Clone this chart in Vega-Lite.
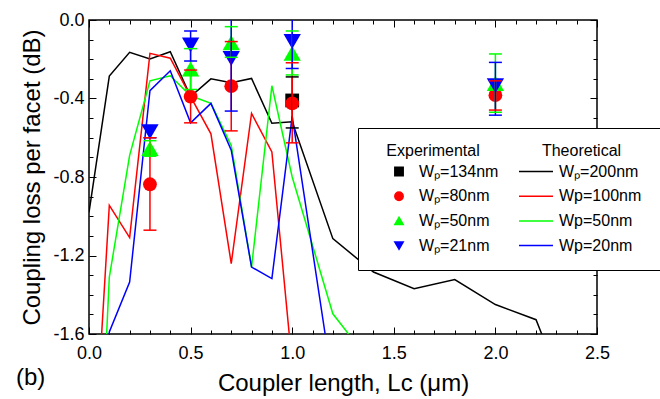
{
  "$schema": "https://vega.github.io/schema/vega-lite/v6.json",
  "autosize": {"type": "none"},
  "width": 508,
  "height": 314,
  "padding": {"left": 89, "top": 20, "right": 63, "bottom": 65},
  "background": "white",
  "title": {"text": "(b)", "orient": "bottom", "anchor": "start", "frame": "bounds", "fontSize": 24, "fontWeight": "normal", "font": "Liberation Sans", "color": "black", "offset": 0, "dy": -29, "dx": -5},
  "config": {
    "font": "Liberation Sans",
    "view": {"stroke": "black", "strokeWidth": 1.5},
    "axis": {"domain": false, "tickColor": "black", "labelColor": "black", "titleColor": "black", "labelFontSize": 18, "titleFontSize": 24, "titleFontWeight": "normal", "grid": false, "tickWidth": 1}
  },
  "datasets": {
    "theory": [
      {"L": 0.0, "loss": -0.98, "curve": "Wₚ=200nm"},
      {"L": 0.1, "loss": -0.286, "curve": "Wₚ=200nm"},
      {"L": 0.2, "loss": -0.165, "curve": "Wₚ=200nm"},
      {"L": 0.3, "loss": -0.199, "curve": "Wₚ=200nm"},
      {"L": 0.4, "loss": -0.162, "curve": "Wₚ=200nm"},
      {"L": 0.5, "loss": -0.39, "curve": "Wₚ=200nm"},
      {"L": 0.6, "loss": -0.3, "curve": "Wₚ=200nm"},
      {"L": 0.7, "loss": -0.32, "curve": "Wₚ=200nm"},
      {"L": 0.8, "loss": -0.298, "curve": "Wₚ=200nm"},
      {"L": 0.9, "loss": -0.526, "curve": "Wₚ=200nm"},
      {"L": 1.0, "loss": -0.519, "curve": "Wₚ=200nm"},
      {"L": 1.2, "loss": -1.114, "curve": "Wₚ=200nm"},
      {"L": 1.4, "loss": -1.284, "curve": "Wₚ=200nm"},
      {"L": 1.6, "loss": -1.369, "curve": "Wₚ=200nm"},
      {"L": 1.8, "loss": -1.323, "curve": "Wₚ=200nm"},
      {"L": 2.0, "loss": -1.45, "curve": "Wₚ=200nm"},
      {"L": 2.2, "loss": -1.527, "curve": "Wₚ=200nm"},
      {"L": 2.4, "loss": -2.05, "curve": "Wₚ=200nm"},
      {"L": 0.0, "loss": -2.68, "curve": "Wp=100nm"},
      {"L": 0.1, "loss": -0.944, "curve": "Wp=100nm"},
      {"L": 0.2, "loss": -1.109, "curve": "Wp=100nm"},
      {"L": 0.3, "loss": -0.17, "curve": "Wp=100nm"},
      {"L": 0.4, "loss": -0.195, "curve": "Wp=100nm"},
      {"L": 0.5, "loss": -0.39, "curve": "Wp=100nm"},
      {"L": 0.6, "loss": -0.58, "curve": "Wp=100nm"},
      {"L": 0.7, "loss": -1.241, "curve": "Wp=100nm"},
      {"L": 0.8, "loss": -0.476, "curve": "Wp=100nm"},
      {"L": 0.9, "loss": -0.672, "curve": "Wp=100nm"},
      {"L": 1.0, "loss": -1.76, "curve": "Wp=100nm"},
      {"L": 0.0, "loss": -3.5, "curve": "Wp=50nm"},
      {"L": 0.1, "loss": -1.31, "curve": "Wp=50nm"},
      {"L": 0.2, "loss": -0.69, "curve": "Wp=50nm"},
      {"L": 0.3, "loss": -0.31, "curve": "Wp=50nm"},
      {"L": 0.4, "loss": -0.284, "curve": "Wp=50nm"},
      {"L": 0.5, "loss": -0.386, "curve": "Wp=50nm"},
      {"L": 0.6, "loss": -0.425, "curve": "Wp=50nm"},
      {"L": 0.7, "loss": -0.64, "curve": "Wp=50nm"},
      {"L": 0.8, "loss": -1.259, "curve": "Wp=50nm"},
      {"L": 0.9, "loss": -0.335, "curve": "Wp=50nm"},
      {"L": 1.0, "loss": -0.8, "curve": "Wp=50nm"},
      {"L": 1.2, "loss": -1.497, "curve": "Wp=50nm"},
      {"L": 1.3, "loss": -1.63, "curve": "Wp=50nm"},
      {"L": 0.0, "loss": -3.0, "curve": "Wp=20nm"},
      {"L": 0.1, "loss": -1.59, "curve": "Wp=20nm"},
      {"L": 0.2, "loss": -1.335, "curve": "Wp=20nm"},
      {"L": 0.3, "loss": -0.36, "curve": "Wp=20nm"},
      {"L": 0.4, "loss": -0.259, "curve": "Wp=20nm"},
      {"L": 0.5, "loss": -0.524, "curve": "Wp=20nm"},
      {"L": 0.6, "loss": -0.425, "curve": "Wp=20nm"},
      {"L": 0.7, "loss": -0.663, "curve": "Wp=20nm"},
      {"L": 0.8, "loss": -1.259, "curve": "Wp=20nm"},
      {"L": 0.9, "loss": -1.318, "curve": "Wp=20nm"},
      {"L": 1.0, "loss": -0.49, "curve": "Wp=20nm"},
      {"L": 1.2, "loss": -1.86, "curve": "Wp=20nm"}
    ],
    "exp": [
      {"L": 1.0, "loss": -0.41, "lo": -0.55, "hi": -0.29, "series": "Wₚ=134nm"},
      {"L": 0.3, "loss": -0.837, "lo": -1.071, "hi": -0.6, "series": "Wₚ=80nm"},
      {"L": 0.5, "loss": -0.39, "lo": -0.524, "hi": -0.255, "series": "Wₚ=80nm"},
      {"L": 0.7, "loss": -0.337, "lo": -0.565, "hi": -0.11, "series": "Wₚ=80nm"},
      {"L": 1.0, "loss": -0.425, "lo": -0.626, "hi": -0.218, "series": "Wₚ=80nm"},
      {"L": 2.0, "loss": -0.383, "lo": -0.459, "hi": -0.31, "series": "Wₚ=80nm"},
      {"L": 0.3, "loss": -0.655, "lo": -0.694, "hi": -0.615, "series": "Wₚ=50nm"},
      {"L": 0.5, "loss": -0.25, "lo": -0.354, "hi": -0.146, "series": "Wₚ=50nm"},
      {"L": 0.7, "loss": -0.116, "lo": -0.19, "hi": -0.034, "series": "Wₚ=50nm"},
      {"L": 1.0, "loss": -0.17, "lo": -0.28, "hi": -0.056, "series": "Wₚ=50nm"},
      {"L": 2.0, "loss": -0.323, "lo": -0.47, "hi": -0.173, "series": "Wₚ=50nm"},
      {"L": 0.3, "loss": -0.57, "lo": -0.6, "hi": -0.541, "series": "Wₚ=21nm"},
      {"L": 0.5, "loss": -0.128, "lo": -0.209, "hi": -0.056, "series": "Wₚ=21nm"},
      {"L": 0.7, "loss": -0.196, "lo": -0.464, "hi": 0.07, "series": "Wₚ=21nm"},
      {"L": 1.0, "loss": -0.11, "lo": -0.247, "hi": 0.03, "series": "Wₚ=21nm"},
      {"L": 2.0, "loss": -0.335, "lo": -0.485, "hi": -0.216, "series": "Wₚ=21nm"}
    ]
  },
  "resolve": {"scale": {"x": "shared", "y": "shared"}, "axis": {"x": "independent", "y": "independent"}},
  "layer": [
    {
      "data": {"name": "theory"},
      "mark": {"type": "line", "clip": true, "strokeWidth": 1.5},
      "encoding": {
        "x": {"field": "L", "type": "quantitative", "scale": {"domain": [0, 2.5], "nice": false, "zero": false},
          "axis": {"orient": "bottom", "title": "Coupler length, Lc (μm)", "values": [0,0.1,0.2,0.3,0.4,0.5,0.6,0.7,0.8,0.9,1.0,1.1,1.2,1.3,1.4,1.5,1.6,1.7,1.8,1.9,2.0,2.1,2.2,2.3,2.4,2.5],
            "labelExpr": "round(datum.value*10) % 5 == 0 ? format(datum.value, '.1f') : ''",
            "tickSize": {"condition": {"test": "round(datum.value*10) % 5 == 0", "value": -7}, "value": -4},
            "labelPadding": 17, "titlePadding": 6, "labelFlush": false, "labelOverlap": false}},
        "y": {"field": "loss", "type": "quantitative", "scale": {"domain": [-1.6, 0], "nice": false, "zero": false},
          "axis": {"orient": "left", "title": "Coupling loss per facet (dB)", "values": [-1.6,-1.5,-1.4,-1.3,-1.2,-1.1,-1.0,-0.9,-0.8,-0.7,-0.6,-0.5,-0.4,-0.3,-0.2,-0.1,0],
            "labelExpr": "abs(round(datum.value*10)) % 4 == 0 ? replace(format(datum.value, '.1f'), '−', '-') : ''",
            "tickSize": {"condition": {"test": "abs(round(datum.value*10)) % 4 == 0", "value": -7}, "value": -4},
            "labelPadding": 12, "titlePadding": 8, "labelFlush": false, "labelOverlap": false}},
        "stroke": {"field": "curve", "type": "nominal",
          "scale": {"domain": ["Wₚ=200nm", "Wp=100nm", "Wp=50nm", "Wp=20nm"], "range": ["#000000", "#ff0000", "#00ff00", "#0000ff"]},
          "legend": {"orient": "none", "legendX": 269, "legendY": 108, "title": "\u200b\u00a0\u00a0\u00a0Experimental\u00a0\u00a0\u00a0\u00a0\u00a0\u00a0\u00a0\u00a0\u00a0\u00a0\u00a0\u00a0\u00a0\u00a0Theoretical\u00a0\u00a0\u00a0\u00a0\u00a0\u00a0\u200b", "titleLimit": 1000, "titleFontSize": 16, "titleFontWeight": "normal", "titleColor": "black", "titlePadding": 4,
            "labelFontSize": 16, "labelColor": "black", "symbolType": "stroke", "symbolSize": 1156, "symbolOffset": 145, "labelOffset": 5,
            "clipHeight": 17, "rowPadding": 7.7, "padding": 15, "fillColor": "white", "strokeColor": "black"}}
      }
    },
    {
      "data": {"name": "exp"},
      "transform": [{"filter": "datum.series == 'Wₚ=134nm' || datum.series == 'Wₚ=80nm'"}],
      "mark": {"type": "point", "filled": true, "size": 190, "opacity": 1, "clip": true},
      "encoding": {
        "x": {"field": "L", "type": "quantitative",
          "axis": {"orient": "top", "title": null, "labels": false, "values": [0,0.1,0.2,0.3,0.4,0.5,0.6,0.7,0.8,0.9,1.0,1.1,1.2,1.3,1.4,1.5,1.6,1.7,1.8,1.9,2.0,2.1,2.2,2.3,2.4,2.5],
            "tickSize": {"condition": {"test": "round(datum.value*10) % 5 == 0", "value": -7}, "value": -4}}},
        "y": {"field": "loss", "type": "quantitative",
          "axis": {"orient": "right", "title": null, "labels": false, "values": [-1.6,-1.5,-1.4,-1.3,-1.2,-1.1,-1.0,-0.9,-0.8,-0.7,-0.6,-0.5,-0.4,-0.3,-0.2,-0.1,0],
            "tickSize": {"condition": {"test": "abs(round(datum.value*10)) % 4 == 0", "value": -7}, "value": -4}}},
        "fill": {"field": "series", "type": "nominal",
          "scale": {"domain": ["Wₚ=134nm", "Wₚ=80nm", "Wₚ=50nm", "Wₚ=21nm"], "range": ["#000000", "#ff0000", "#00ff00", "#0000ff"]},
          "legend": {"orient": "none", "legendX": 302, "legendY": 143, "title": null,
            "labelFontSize": 16, "labelColor": "black", "symbolSize": 70, "labelOffset": 12, "clipHeight": 17, "rowPadding": 7.7, "padding": 0}},
        "shape": {"field": "series", "type": "nominal",
          "scale": {"domain": ["Wₚ=134nm", "Wₚ=80nm", "Wₚ=50nm", "Wₚ=21nm"], "range": ["square", "circle", "triangle-up", "triangle-down"]},
          "legend": {"orient": "none", "legendX": 302, "legendY": 143, "title": null,
            "labelFontSize": 16, "labelColor": "black", "symbolSize": 70, "labelOffset": 12, "clipHeight": 17, "rowPadding": 7.7, "padding": 0}}
      }
    },
    {
      "data": {"name": "exp"},
      "transform": [{"filter": "datum.series == 'Wₚ=50nm' || datum.series == 'Wₚ=21nm'"}],
      "mark": {"type": "point", "filled": true, "size": 300, "opacity": 1, "clip": true},
      "encoding": {
        "x": {"field": "L", "type": "quantitative", "axis": null},
        "y": {"field": "loss", "type": "quantitative", "axis": null},
        "fill": {"field": "series", "type": "nominal"},
        "shape": {"field": "series", "type": "nominal"}
      }
    },
    {
      "data": {"name": "exp"},
      "mark": {"type": "rule", "clip": true, "strokeWidth": 1.5},
      "encoding": {
        "x": {"field": "L", "type": "quantitative", "axis": null},
        "y": {"field": "lo", "type": "quantitative", "axis": null},
        "y2": {"field": "hi"},
        "color": {"field": "series", "type": "nominal", "legend": null,
          "scale": {"domain": ["Wₚ=134nm", "Wₚ=80nm", "Wₚ=50nm", "Wₚ=21nm"], "range": ["#000000", "#ff0000", "#00ff00", "#0000ff"]}}
      }
    },
    {
      "data": {"name": "exp"},
      "mark": {"type": "tick", "clip": true, "orient": "horizontal", "size": 13, "thickness": 1.5, "opacity": 1},
      "encoding": {
        "x": {"field": "L", "type": "quantitative", "axis": null},
        "y": {"field": "lo", "type": "quantitative", "axis": null},
        "color": {"field": "series", "type": "nominal", "legend": null,
          "scale": {"domain": ["Wₚ=134nm", "Wₚ=80nm", "Wₚ=50nm", "Wₚ=21nm"], "range": ["#000000", "#ff0000", "#00ff00", "#0000ff"]}}
      }
    },
    {
      "data": {"name": "exp"},
      "mark": {"type": "tick", "clip": true, "orient": "horizontal", "size": 13, "thickness": 1.5, "opacity": 1},
      "encoding": {
        "x": {"field": "L", "type": "quantitative", "axis": null},
        "y": {"field": "hi", "type": "quantitative", "axis": null},
        "color": {"field": "series", "type": "nominal", "legend": null,
          "scale": {"domain": ["Wₚ=134nm", "Wₚ=80nm", "Wₚ=50nm", "Wₚ=21nm"], "range": ["#000000", "#ff0000", "#00ff00", "#0000ff"]}}
      }
    }
  ]
}
